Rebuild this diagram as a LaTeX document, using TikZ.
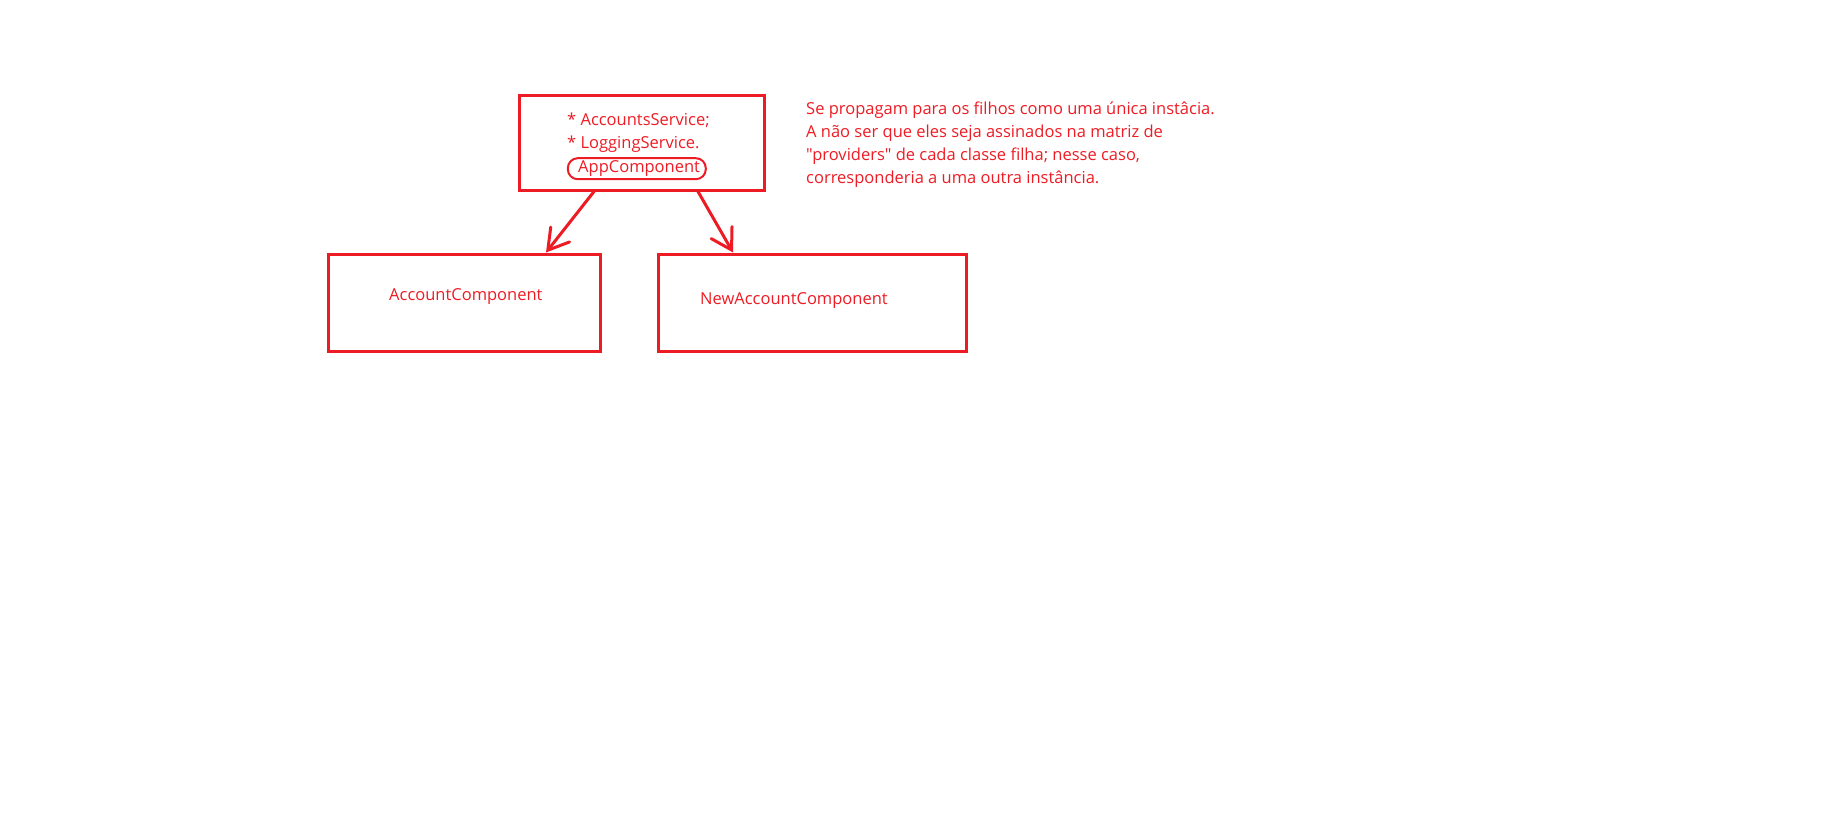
\documentclass[tikz,border=0pt]{standalone}
\usepackage{fontspec}
\setmainfont{Open Sans}[Ligatures=TeXOff]
\usetikzlibrary{arrows.meta}
\definecolor{paintred}{RGB}{237,28,36}
\tikzset{
  box/.style={draw=paintred, line width=3pt, inner sep=0pt},
  lbl/.style={text=paintred, inner sep=0pt, font=\fontsize{16.5}{23.1}\selectfont},
  conn/.style={draw=paintred, line width=3pt, line cap=round, -{Straight Barb[length=20pt,width=24pt,line cap=round]}},
}
\begin{document}
\begin{tikzpicture}[x=1pt,y=-1pt]
\useasboundingbox (0,0) rectangle (1848,812);
\node[box, minimum width=244.5pt, minimum height=95pt] (top) at (641.75,142.5) {};
\node[box, minimum width=271.3pt, minimum height=97pt] (acc) at (464.35,302.5) {};
\node[box, minimum width=307.6pt, minimum height=97pt] (newacc) at (812.5,302.5) {};
\node[lbl, anchor=base west] (l1) at (567,125) {* AccountsService;};
\node[lbl, anchor=base west] (l2) at (567,148.3) {* LoggingService.};
\node[lbl, anchor=base west] (l3) at (578,172.7) {AppComponent};
\node[draw=paintred, line width=2pt, rounded corners=10pt, minimum width=138pt, minimum height=21pt] (ring) at (636.8,168.7) {};
\node[lbl, anchor=base west] (accl) at (389,300) {AccountComponent};
\node[lbl, anchor=base west] (newl) at (700,304) {NewAccountComponent};
\node[lbl, anchor=base west, align=left] (note) at (806,183.3) {Se propagam para os filhos como uma única instâcia.\\A não ser que eles seja assinados na matriz de\\"providers" de cada classe filha; nesse caso,\\corresponderia a uma outra instância.};
\draw[conn] ([xshift=76pt]top.south west) -- ([xshift=218.8pt]acc.north west);
\draw[conn] ([xshift=180pt]top.south west) -- ([xshift=75.8pt]newacc.north west);
\end{tikzpicture}
\end{document}
